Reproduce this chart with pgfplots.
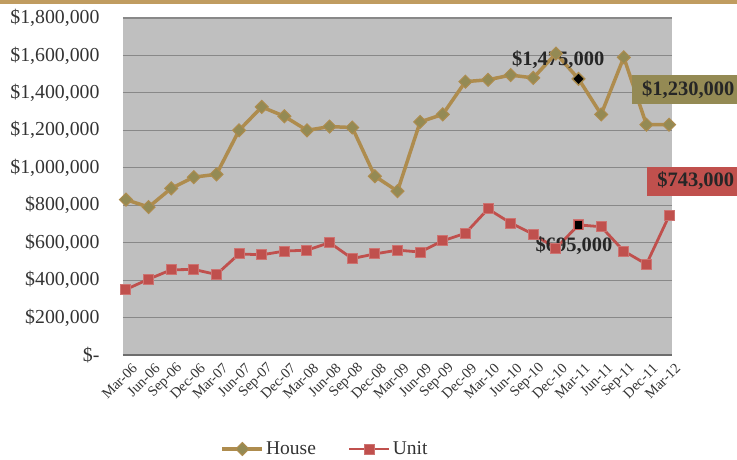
\documentclass[border=0pt]{standalone}
\usepackage{fontspec}
\setmainfont{Liberation Serif}
\usepackage{pgfplots}
\pgfplotsset{compat=1.18}
\definecolor{housec}{HTML}{AE8C4E}
\definecolor{housem}{HTML}{948A54}
\definecolor{unitc}{HTML}{C0504D}
\definecolor{topbar}{HTML}{C09C60}
\definecolor{bg}{HTML}{BFBFBF}
\definecolor{gridc}{HTML}{888888}
\definecolor{txt}{HTML}{333333}
\begin{document}
\begin{tikzpicture}
\path[use as bounding box] (0,0) rectangle (737pt,460pt);
\fill[topbar] (0,456pt) rectangle (737pt,460pt);
\begin{axis}[
 at={(123pt,105pt)}, anchor=south west,
 width=549pt, height=337pt, scale only axis,
 xmin=-0.13, xmax=24.13, ymin=0, ymax=1800000,
 scaled y ticks=false,
 clip=false,
 axis background/.style={fill=bg},
 axis x line*=bottom, axis y line*=left,
 x axis line style={draw=gridc!80!black, line width=2pt, -},
 y axis line style={draw=none},
 major tick length=0pt,
 ymajorgrids, grid style={gridc, line width=1.2pt},
 ytick={0,200000,400000,600000,800000,1000000,1200000,1400000,1600000,1800000},
 yticklabels={{\$-\hspace{14pt}},{\$200,000},{\$400,000},{\$600,000},{\$800,000},{\$1,000,000},{\$1,200,000},{\$1,400,000},{\$1,600,000},{\$1,800,000}},
 yticklabel style={font=\fontsize{19.8}{20}\selectfont, text=txt, xshift=-20pt},
 xtick={0,...,24},
 xticklabels={Mar-06,Jun-06,Sep-06,Dec-06,Mar-07,Jun-07,Sep-07,Dec-07,Mar-08,Jun-08,Sep-08,Dec-08,Mar-09,Jun-09,Sep-09,Dec-09,Mar-10,Jun-10,Sep-10,Dec-10,Mar-11,Jun-11,Sep-11,Dec-11,Mar-12},
 xticklabel style={rotate=45, anchor=east, font=\fontsize{14.5}{15}\selectfont, text=txt, yshift=-14pt, xshift=2pt},
 legend columns=2,
 legend style={at={(0.368,-0.279)}, anchor=center, draw=none, fill=none, font=\fontsize{19.5}{20}\selectfont, text=txt, /tikz/every even column/.append style={column sep=30pt}},
 legend image code/.code={\draw[mark repeat=2,mark phase=2,#1] plot coordinates {(0pt,0pt) (20pt,0pt) (40pt,0pt)};},
]
\addplot[housec, line width=3.5pt, mark=square*, mark size=4.6pt, mark options={rotate=45, fill=housem, draw=housec, line width=1pt}] coordinates {
(0,830000) (1,790000) (2,890000) (3,950000) (4,965000) (5,1200000) (6,1325000) (7,1275000) (8,1200000) (9,1220000) (10,1215000) (11,955000) (12,875000) (13,1245000) (14,1285000) (15,1460000) (16,1470000) (17,1495000) (18,1480000) (19,1610000) (20,1475000) (21,1285000) (22,1590000) (23,1230000) (24,1230000)};
\addlegendentry{House}
\addplot[unitc, line width=2.8pt, mark=square*, mark size=5pt, mark options={fill=unitc, draw=unitc!80!white, line width=1pt}] coordinates {
(0,350000) (1,405000) (2,455000) (3,457000) (4,430000) (5,540000) (6,535000) (7,555000) (8,560000) (9,600000) (10,515000) (11,540000) (12,560000) (13,550000) (14,610000) (15,650000) (16,780000) (17,705000) (18,645000) (19,570000) (20,695000) (21,685000) (22,555000) (23,485000) (24,743000)};
\addlegendentry{Unit}
\addplot[only marks, mark=square*, mark size=3.3pt, mark options={rotate=45, fill=black, draw=black}, forget plot] coordinates {(20,1475000)};
\addplot[only marks, mark=square*, mark size=4.3pt, mark options={fill=black, draw=unitc, line width=1pt}, forget plot] coordinates {(20,695000)};
\node[font=\bfseries\fontsize{20.5}{21}\selectfont, text=black!85] at (axis cs:19.1,1575000) {\$1,475,000};
\node[font=\bfseries\fontsize{20.5}{21}\selectfont, text=black!85] at (axis cs:19.8,582000) {\$695,000};
\node[fill=housem, inner xsep=10pt, minimum height=29pt, anchor=west, font=\bfseries\fontsize{20.5}{21}\selectfont, text=black!85] at (axis cs:22.36,1418000) {\$1,230,000};
\node[fill=unitc, inner xsep=10pt, minimum height=29pt, anchor=west, font=\bfseries\fontsize{20.5}{21}\selectfont, text=black!85] at (axis cs:23.03,929000) {\$743,000};
\end{axis}
\end{tikzpicture}
\end{document}
